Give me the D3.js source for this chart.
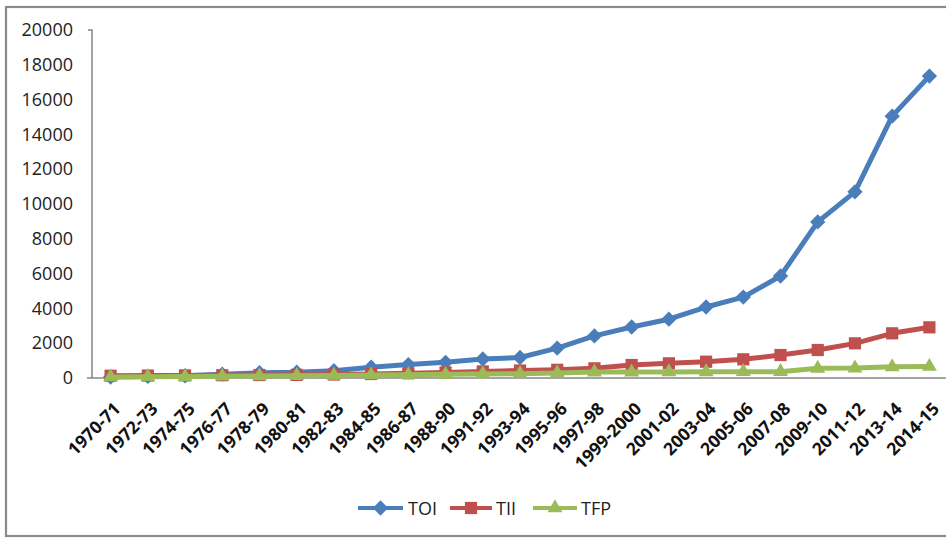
<!DOCTYPE html>
<html>
<head>
<meta charset="utf-8">
<script src="https://cdn.jsdelivr.net/npm/d3@7"></script>
<style>
  html, body { margin: 0; padding: 0; background: #fff; }
  svg { display: block; }
</style>
</head>
<body>
<svg id="chart" width="946" height="539"></svg>
<script>
// Periods on the category axis
const periods = ["1970-71", "1972-73", "1974-75", "1976-77", "1978-79", "1980-81",
  "1982-83", "1984-85", "1986-87", "1988-90", "1991-92", "1993-94", "1995-96",
  "1997-98", "1999-2000", "2001-02", "2003-04", "2005-06", "2007-08", "2009-10",
  "2011-12", "2013-14", "2014-15"];

// Series values
const TOI = [60, 90, 130, 220, 300, 330, 420, 620, 770, 900, 1090, 1180, 1720,
  2420, 2930, 3380, 4080, 4650, 5860, 8970, 10700, 15050, 17350];
const TII = [130, 140, 150, 160, 170, 180, 200, 230, 270, 320, 380, 430, 470,
  555, 745, 843, 937, 1073, 1320, 1609, 1992, 2567, 2912];
const TFP = [60, 70, 80, 100, 120, 130, 150, 170, 190, 210, 230, 250, 290,
  340, 340, 350, 355, 365, 365, 555, 570, 640, 660];

const yTicks = [0, 2000, 4000, 6000, 8000, 10000, 12000, 14000, 16000, 18000, 20000];

const seriesList = [
  { name: "TOI", values: TOI, color: "#4A7EBB", marker: "diamond" },
  { name: "TII", values: TII, color: "#C0504D", marker: "square" },
  { name: "TFP", values: TFP, color: "#9BBB59", marker: "triangle" }
];

const svg = d3.select("#chart");
const font = "'Open Sans', 'Liberation Sans', sans-serif";

// Outer chart frame
svg.append("rect")
  .attr("x", 6).attr("y", 7).attr("width", 960).attr("height", 529)
  .attr("fill", "none").attr("stroke", "#8a8a8a").attr("stroke-width", 2.2);

const plotLeft = 92, plotRight = 948, plotTop = 30, plotBottom = 378;

const x = d3.scaleBand().domain(periods).range([plotLeft, plotRight]);
const y = d3.scaleLinear().domain([0, 20000]).range([plotBottom, plotTop]);
const cx = p => x(p) + x.bandwidth() / 2;

// Y axis
const yAxis = svg.append("g").attr("transform", `translate(${plotLeft},0)`)
  .call(d3.axisLeft(y).tickValues(yTicks).tickSize(0).tickPadding(19)
    .tickFormat(d3.format("d")));
yAxis.select(".domain").attr("stroke", "#868686").attr("stroke-width", 1.5)
  .attr("d", `M-4,${plotTop}H0V${plotBottom}`);
yAxis.selectAll("text").attr("font-family", font).attr("font-size", 18)
  .attr("fill", "#222");

// X axis line (labels drawn separately, rotated)
const xAxis = svg.append("g").attr("transform", `translate(0,${plotBottom})`)
  .call(d3.axisBottom(x).tickSize(0).tickFormat(""));
xAxis.select(".domain").attr("stroke", "#868686").attr("stroke-width", 1.5)
  .attr("d", `M${plotLeft - 5},0H${plotRight}`);

svg.append("g").selectAll("text").data(periods).join("text")
  .attr("transform", p => `translate(${cx(p) + 11},${plotBottom + 32}) rotate(-45)`)
  .attr("text-anchor", "end")
  .attr("font-family", font).attr("font-size", 17.5).attr("font-weight", "bold")
  .attr("fill", "#111")
  .text(p => p);

// Marker shapes
const symbolFor = {
  diamond: d3.symbol().type(d3.symbolDiamond2).size(150),
  square: d3.symbol().type(d3.symbolSquare2).size(190),
  triangle: d3.symbol().type(d3.symbolTriangle2).size(160)
};

const line = d3.line().x((d, i) => cx(periods[i])).y(d => y(d));

seriesList.forEach(s => {
  const g = svg.append("g");
  g.append("path").datum(s.values)
    .attr("d", line).attr("fill", "none")
    .attr("stroke", s.color).attr("stroke-width", 5)
    .attr("stroke-linejoin", "round");
  g.selectAll("path.m").data(s.values).join("path")
    .attr("class", "m")
    .attr("transform", (d, i) => `translate(${cx(periods[i])},${y(d)})`)
    .attr("d", symbolFor[s.marker]())
    .attr("fill", s.color);
});

// Legend
const legendItems = [
  { s: seriesList[0], x0: 358, x1: 403, tx: 408 },
  { s: seriesList[1], x0: 450, x1: 492, tx: 496 },
  { s: seriesList[2], x0: 533, x1: 577, tx: 581 }
];
const ly = 508;
const legend = svg.append("g");
legendItems.forEach(it => {
  legend.append("line")
    .attr("x1", it.x0).attr("x2", it.x1).attr("y1", ly).attr("y2", ly)
    .attr("stroke", it.s.color).attr("stroke-width", 4);
  legend.append("path")
    .attr("transform", `translate(${(it.x0 + it.x1) / 2},${ly})`)
    .attr("d", symbolFor[it.s.marker]())
    .attr("fill", it.s.color);
  legend.append("text")
    .attr("x", it.tx).attr("y", ly + 6.5)
    .attr("font-family", font).attr("font-size", 18).attr("fill", "#222")
    .text(it.s.name);
});
</script>
</body>
</html>
